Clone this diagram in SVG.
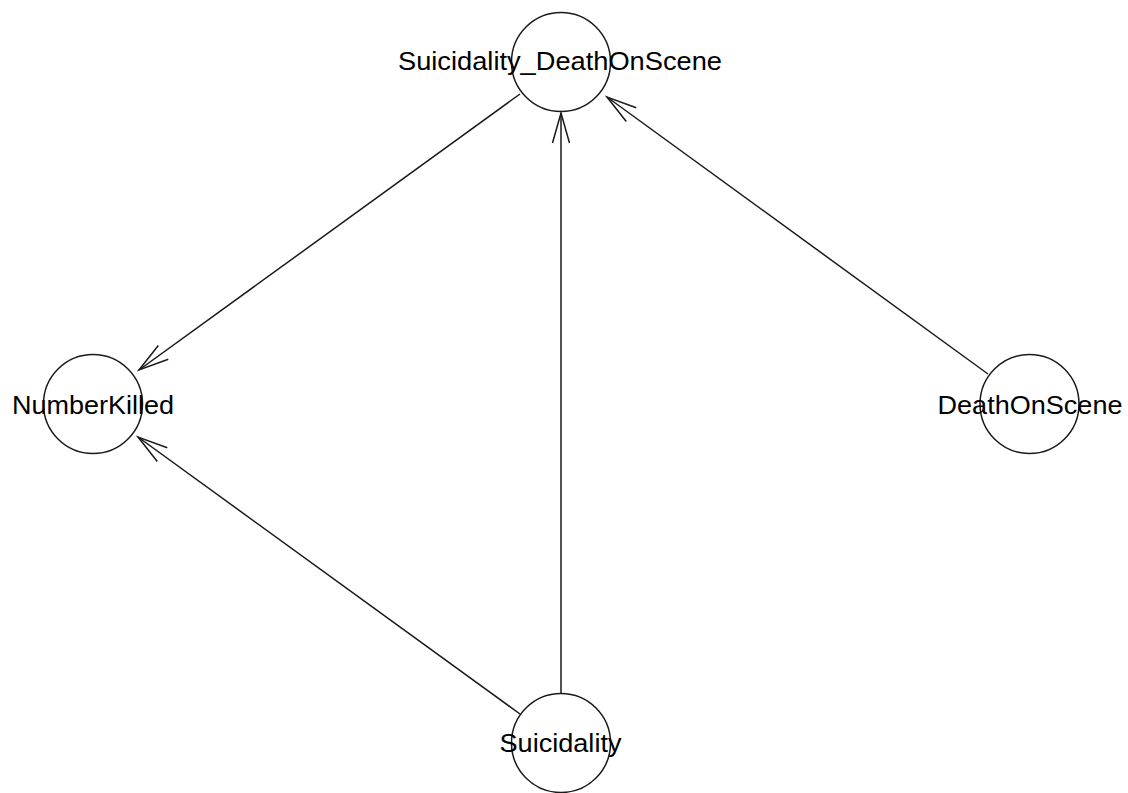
<svg xmlns="http://www.w3.org/2000/svg" width="1128" height="793" viewBox="0 0 1128 793">
<style>
.node circle { fill: none; stroke: #1a1a1a; stroke-width: 1.5; }
.node text { font-family: "Liberation Sans", Arial, sans-serif; font-size: 25.5px; fill: #000; text-anchor: middle; }
.edge { stroke: #1a1a1a; stroke-width: 1.5; fill: none; marker-end: url(#arrow); }
</style>
<defs>
<marker id="arrow" markerUnits="userSpaceOnUse" orient="auto" markerWidth="40" markerHeight="24" viewBox="-34 -12 40 24" refX="0" refY="0" overflow="visible">
<path d="M -30 -8.5 L 0 0 L -30 8.5" fill="none" stroke="#1a1a1a" stroke-width="1.5"/>
</marker>
</defs>
<rect width="1128" height="793" fill="#ffffff"/>
<g id="connectors">
<line class="edge" x1="520" y1="94" x2="139" y2="370"/>
<line class="edge" x1="520" y1="714" x2="138" y2="437"/>
<line class="edge" x1="561" y1="694" x2="561" y2="113"/>
<line class="edge" x1="988" y1="374" x2="607" y2="97"/>
</g>
<g id="node-Suicidality_DeathOnScene" class="node">
<circle cx="561" cy="62" r="49.5"/>
<text x="560" y="69.5" textLength="324" lengthAdjust="spacingAndGlyphs">Suicidality_DeathOnScene</text>
</g>
<g id="node-NumberKilled" class="node">
<circle cx="93" cy="404" r="49.5"/>
<text x="93" y="413.5" textLength="162" lengthAdjust="spacingAndGlyphs">NumberKilled</text>
</g>
<g id="node-DeathOnScene" class="node">
<circle cx="1029.5" cy="404" r="49.5"/>
<text x="1030" y="414" textLength="185" lengthAdjust="spacingAndGlyphs">DeathOnScene</text>
</g>
<g id="node-Suicidality" class="node">
<circle cx="561" cy="743" r="49.5"/>
<text x="560.5" y="751.5" textLength="122" lengthAdjust="spacingAndGlyphs">Suicidality</text>
</g>
</svg>
